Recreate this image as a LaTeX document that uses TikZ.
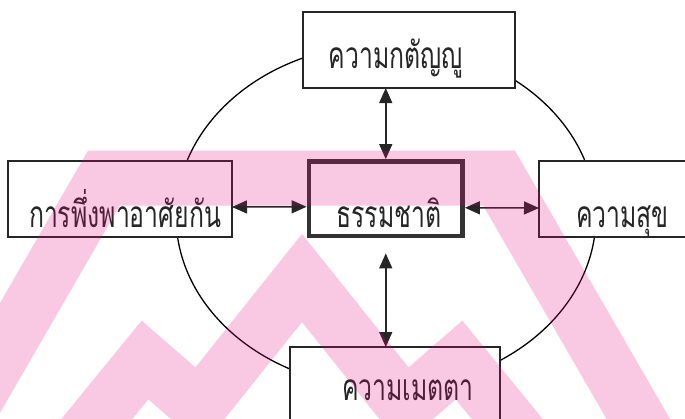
\documentclass[tikz,border=0pt]{standalone}
\usepackage{fontspec}
\newfontfamily\thai[Script=Thai,FakeStretch=0.67]{Loma}
\usetikzlibrary{arrows.meta}
\begin{document}
\begin{tikzpicture}[x=1pt,y=-1pt,
 box/.style={draw=black!85, line width=1.2pt, fill=white, inner sep=0pt, outer sep=0pt},
 natbox/.style={draw=black!80, line width=4.8pt, fill=white, inner sep=0pt},
 lbl/.style={anchor=base, inner sep=0pt, font=\thai\fontsize{37}{37}\selectfont, text=black!85},
 arr/.style={line width=1.5pt, draw=black!85, {Triangle[length=15pt,width=13pt]}-{Triangle[length=15pt,width=13pt]}},
 wm/.style={line width=55pt, line join=miter, draw={rgb,255:red,228;green,5;blue,123}, draw opacity=0.22}]
\useasboundingbox (0,0) rectangle (685,418);
\draw[line width=1.3pt] (386,216) ellipse [x radius=210, y radius=172];
\node[box, minimum width=212pt, minimum height=76pt] (top) at (409,50) {};
\node[box, minimum width=224pt, minimum height=76pt] (left) at (120,199) {};
\node[natbox, minimum width=153.5pt, minimum height=74.5pt] (nat) at (385.75,198.75) {};
\node[box, minimum width=170pt, minimum height=76pt] (right) at (624,199) {};
\node[box, minimum width=210pt, minimum height=100pt] (bottom) at (395,397) {};
\draw[arr] (nat.north) -- (nat.north |- top.south);
\draw[arr] ([yshift=-15pt]nat.south) -- (nat.south |- bottom.north);
\draw[arr] ([yshift=-8pt]left.east) -- ([yshift=-8pt]nat.west);
\draw[arr] ([yshift=-9pt]nat.east) -- ([yshift=-9pt]right.west);
\node[lbl] (t1) at (396,68) {ความกตัญญู};
\node[lbl] (t2) at (125,227) {การพึ่งพาอาศัยกัน};
\node[lbl] (t3) at (389,227) {ธรรมชาติ};
\node[lbl] (t4) at (622.5,227) {ความสุข};
\node[lbl] (t5) at (408,400) {ความเมตตา};
\draw[wm] (-59,460) -- (104,178) -- (499,178) -- (662,460);
\draw[wm] (47,480) -- (145,360) -- (199,407) -- (302,278) -- (405,407) -- (459,360) -- (557,480);
\end{tikzpicture}
\end{document}
